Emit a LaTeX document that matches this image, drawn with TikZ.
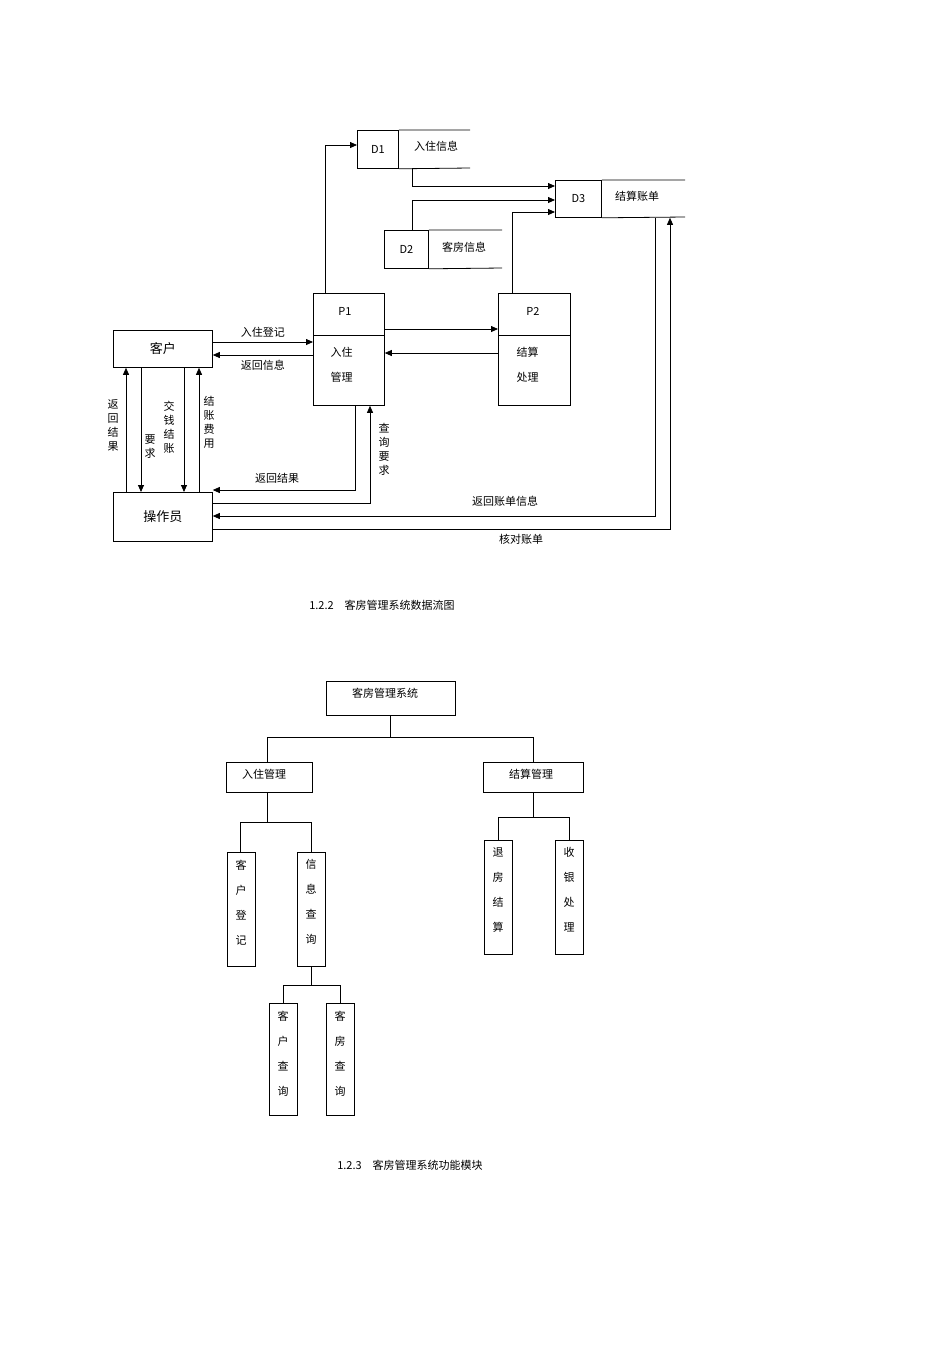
\documentclass[tikz,border=0pt]{standalone}
\usepackage{fontspec}
\setmainfont{Liberation Sans}
\newfontfamily\cjk{Noto Sans CJK SC}
\usetikzlibrary{arrows.meta}
\begin{document}
\begin{tikzpicture}[x=1pt,y=-1pt,line width=0.8pt,
  font=\cjk\fontsize{11}{13}\selectfont,
  ar/.style={-{Triangle[length=7pt,width=6pt]}},
  bx/.style={draw,inner sep=0,anchor=north west},
  vt/.style={align=center,font=\cjk\fontsize{11}{14}\selectfont},
  vt2/.style={align=center,font=\cjk\fontsize{11}{25}\selectfont}]
\useasboundingbox (0,0) rectangle (950,1345);
% stores
\node[bx,minimum width=41,minimum height=38] (d1) at (357,130) {D1};
\draw (d1.north east) -- (470,130) (d1.south east) -- (470,168);
\node at (436,146) (d1t) {入住信息};
\node[bx,minimum width=46,minimum height=37] (d3) at (555,180) {D3};
\draw (d3.north east) -- (685,180) (d3.south east) -- (685,217);
\node at (637,196) (d3t) {结算账单};
\node[bx,minimum width=44,minimum height=38] (d2) at (384,230) {D2};
\draw (d2.north east) -- (502,230) (d2.south east) -- (502,268);
\node at (464,247) (d2t) {客房信息};
% processes
\node[bx,minimum width=71,minimum height=112] (p1) at (313,293) {};
\draw (313,335) -- (384,335);
\node at (345,311) {P1};
\node[align=left,anchor=north west,font=\cjk\fontsize{11}{25}\selectfont] at (327,343) {入住\\管理};
\node[bx,minimum width=72,minimum height=112] (p2) at (498,293) {};
\draw (498,335) -- (570,335);
\node at (533,311) {P2};
\node[align=left,anchor=north west,font=\cjk\fontsize{11}{25}\selectfont] at (513,343) {结算\\处理};
\node[bx,minimum width=99,minimum height=37,font=\cjk\fontsize{13}{15}\selectfont] (kh) at (113,330) {客户};
\node[bx,minimum width=99,minimum height=49,font=\cjk\fontsize{13}{15}\selectfont] (op) at (113,492) {操作员};
% flows
\draw[ar] (p1.north-|325,0) -- (325,145) -- (d1.west|-0,145);
\draw[ar] (412,168) -- (412,186) -- (d3.west|-0,186);
\draw[ar] (412,230) -- (412,200) -- (d3.west|-0,200);
\draw[ar] (512,293) -- (512,212) -- (d3.west|-0,212);
\draw[ar] (p1.east|-0,329) -- (p2.west|-0,329);
\draw[ar] (p2.west|-0,353) -- (p1.east|-0,353);
\draw[ar] (kh.east|-0,342) -- node[above=1pt]{入住登记} (p1.west|-0,342);
\draw[ar] (p1.west|-0,355) -- node[below=1pt]{返回信息} (kh.east|-0,355);
\draw[ar] (op.north-|126,0) -- (kh.south-|126,0);
\draw[ar] (kh.south-|141,0) -- (op.north-|141,0);
\draw[ar] (kh.south-|184,0) -- (op.north-|184,0);
\draw[ar] (op.north-|199,0) -- (kh.south-|199,0);
\node[vt] at (113,425) {返\\回\\结\\果};
\node[vt] at (150,447) {要\\求};
\node[vt] at (169,427) {交\\钱\\结\\账};
\node[vt] at (209,422) {结\\账\\费\\用};
\draw[ar] (p1.south-|355,0) -- (355,490) -- (op.east|-0,490);
\node at (277,478) {返回结果};
\draw[ar] (op.east|-0,503) -- (370,503) -- (p1.south-|370,0);
\node[vt] at (384,449) {查\\询\\要\\求};
\draw[ar] (d3.south-|655,0) -- (655,516) -- (op.east|-0,516);
\node at (505,501) {返回账单信息};
\draw[ar] (op.east|-0,529) -- (670,529) -- (d3.south-|670,0);
\node at (521,539) {核对账单};
\node at (382,605) {1.2.2\quad 客房管理系统数据流图};
% tree
\node[bx,minimum width=129,minimum height=34] (root) at (326,681) {};
\node[anchor=north] at (385,684) {客房管理系统};
\node[bx,minimum width=86,minimum height=30] (rz) at (226,762) {};
\node[anchor=north] at (264,765) {入住管理};
\node[bx,minimum width=100,minimum height=30] (js) at (483,762) {};
\node[anchor=north] at (531,765) {结算管理};
\draw (root.south-|390,0) -- (390,737);
\draw (267,737) -- (533,737);
\draw (267,737) -- (rz.north-|267,0);
\draw (533,737) -- (js.north-|533,0);
\node[bx,minimum width=28,minimum height=114] (kd) at (227,852) {};
\node[vt2,anchor=north] at (241,856) {客\\户\\登\\记};
\node[bx,minimum width=28,minimum height=114] (xx) at (297,852) {};
\node[vt2,anchor=north] at (311,856) {信\\息\\查\\询};
\draw (rz.south-|267,0) -- (267,822);
\draw (240,822) -- (311,822);
\draw (240,822) -- (kd.north-|240,0);
\draw (311,822) -- (xx.north-|311,0);
\node[bx,minimum width=28,minimum height=114] (tf) at (484,840) {};
\node[vt2,anchor=north] at (498,844) {退\\房\\结\\算};
\node[bx,minimum width=28,minimum height=114] (sy) at (555,840) {};
\node[vt2,anchor=north] at (569,844) {收\\银\\处\\理};
\draw (js.south-|533,0) -- (533,817);
\draw (498,817) -- (569,817);
\draw (498,817) -- (tf.north-|498,0);
\draw (569,817) -- (sy.north-|569,0);
\node[bx,minimum width=28,minimum height=112] (kc) at (269,1003) {};
\node[vt2,anchor=north] at (283,1007) {客\\户\\查\\询};
\node[bx,minimum width=28,minimum height=112] (fc) at (326,1003) {};
\node[vt2,anchor=north] at (340,1007) {客\\房\\查\\询};
\draw (xx.south-|311,0) -- (311,985);
\draw (283,985) -- (340,985);
\draw (283,985) -- (kc.north-|283,0);
\draw (340,985) -- (fc.north-|340,0);
\node at (410,1165) {1.2.3\quad 客房管理系统功能模块};
\end{tikzpicture}
\end{document}
